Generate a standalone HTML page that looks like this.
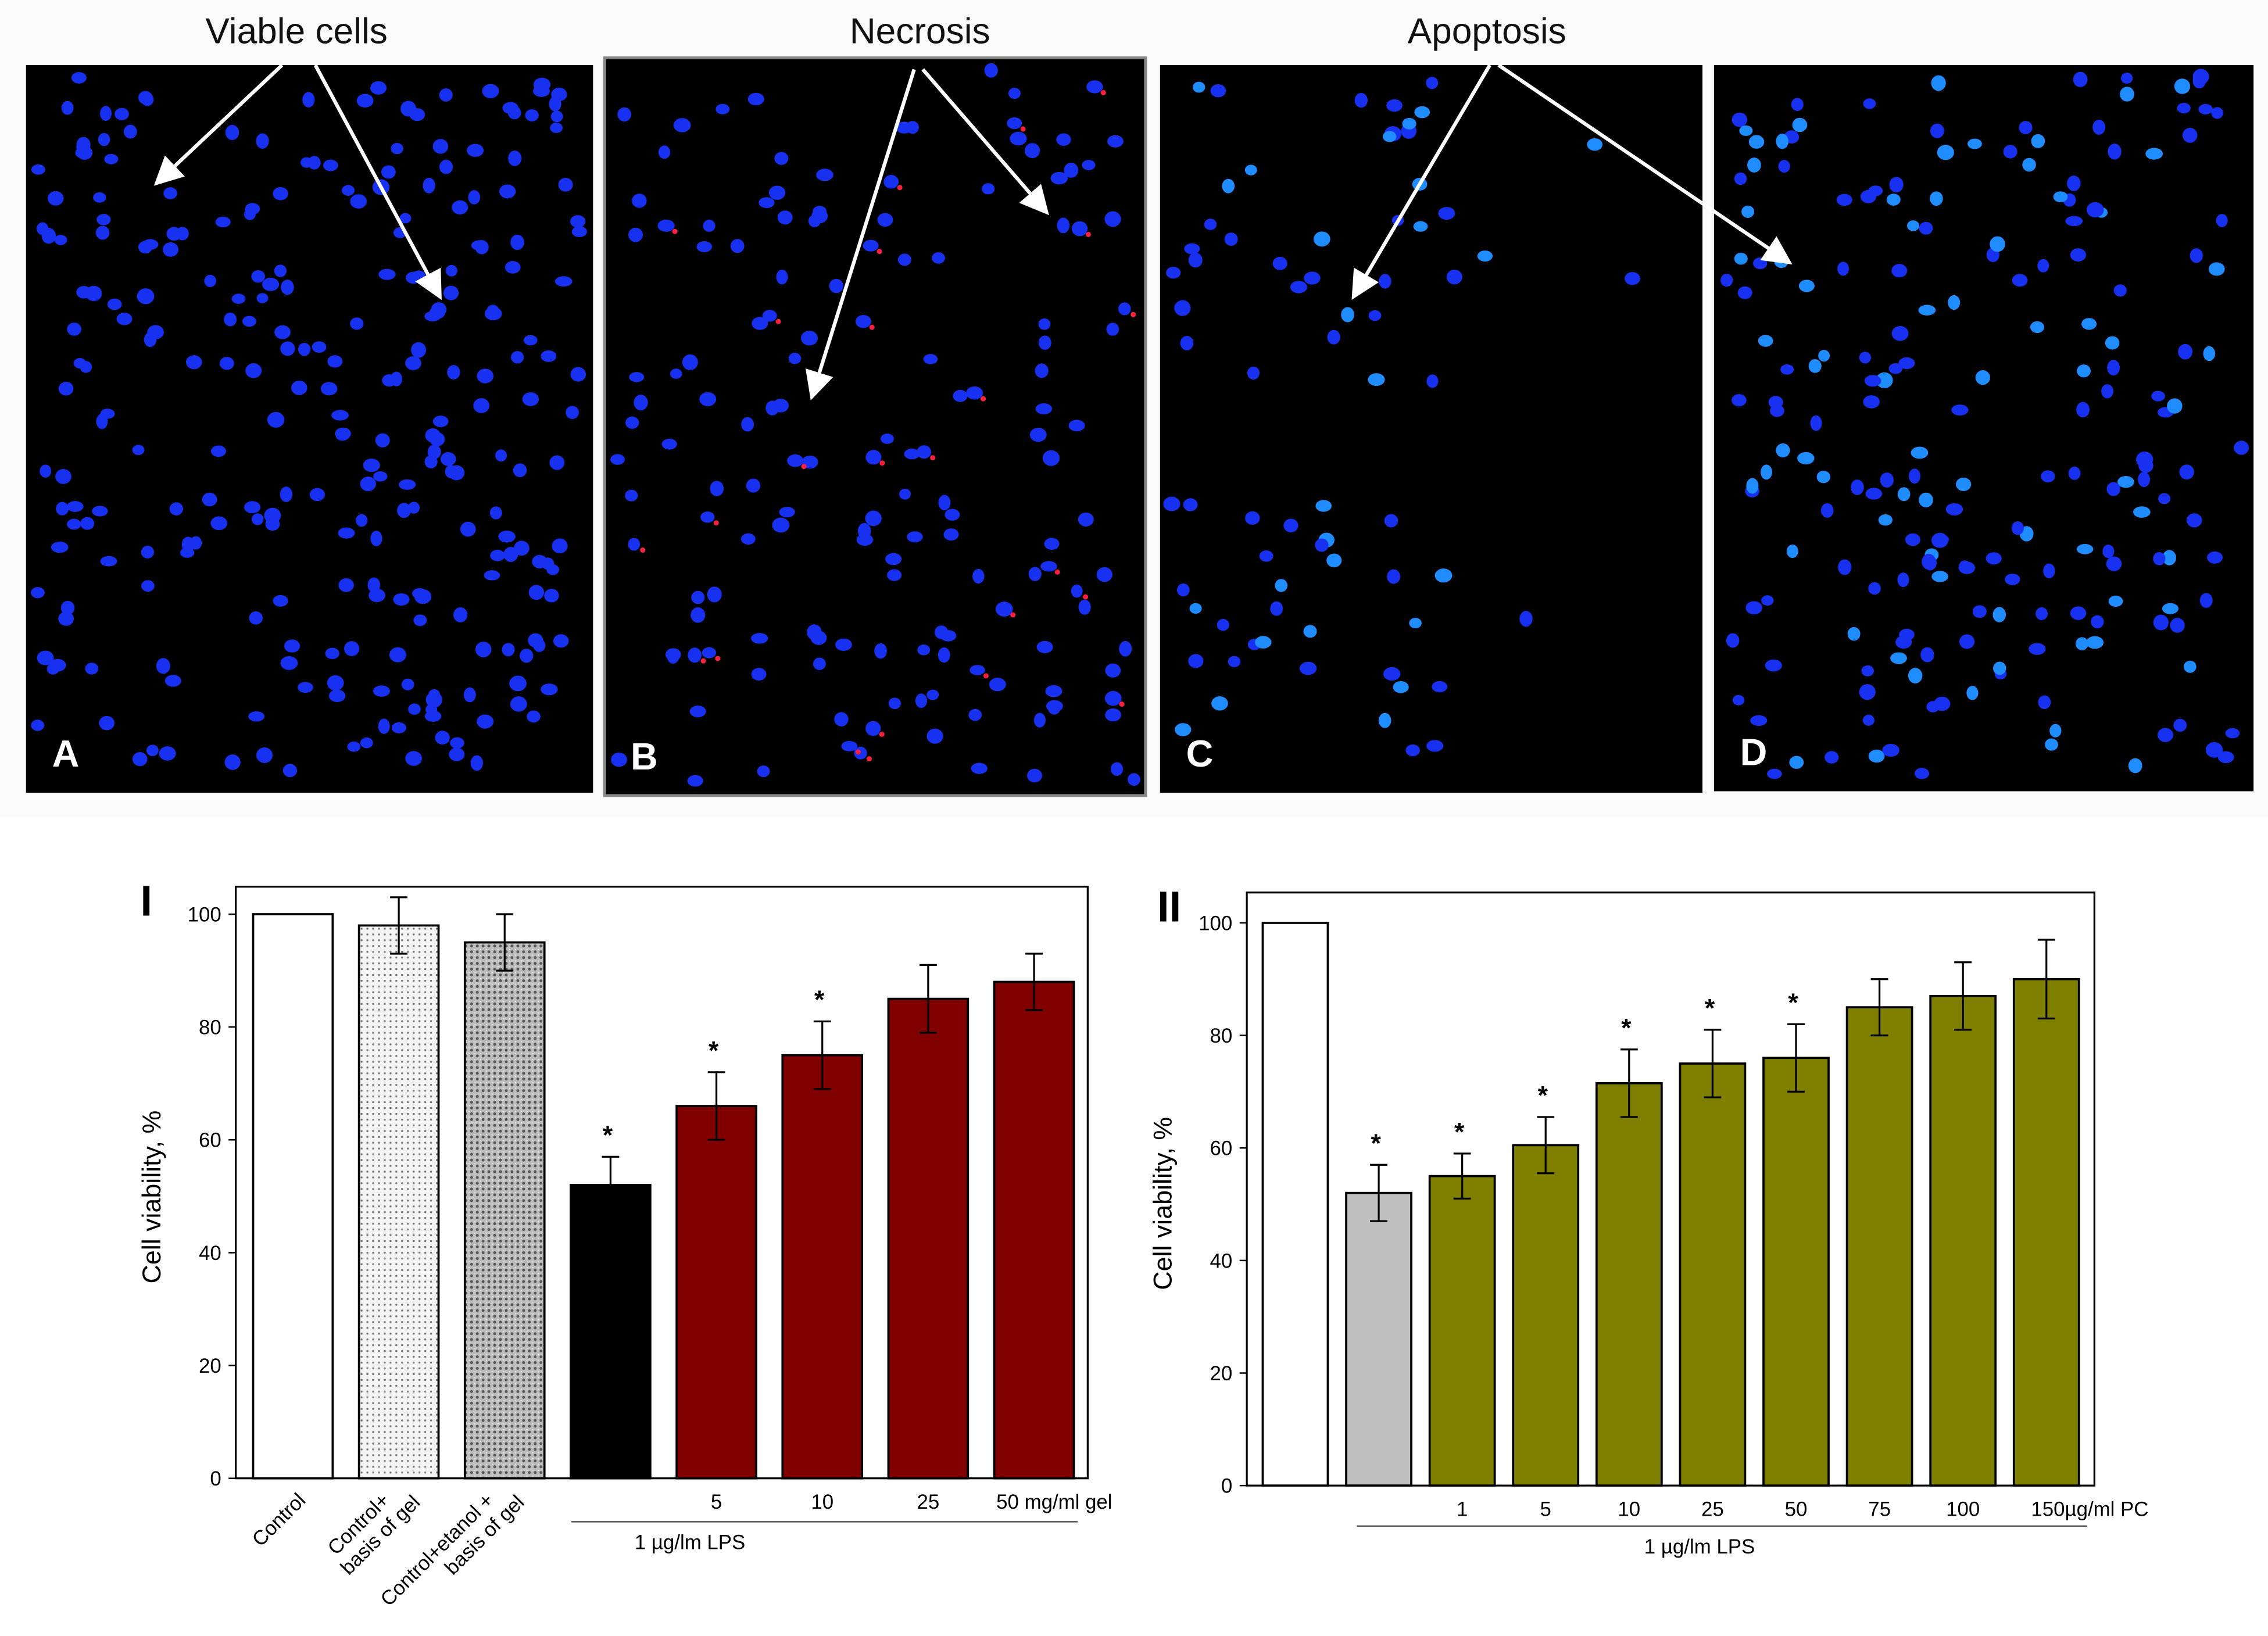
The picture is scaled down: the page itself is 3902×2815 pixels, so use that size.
<!DOCTYPE html>
<html><head><meta charset="utf-8"><style>
html,body{margin:0;padding:0;background:#fff;}
svg{display:block;font-family:"Liberation Sans",Arial,sans-serif;}
</style></head><body>
<svg id="fig" width="3902" height="2815" viewBox="0 0 1568 1131" preserveAspectRatio="none" xmlns="http://www.w3.org/2000/svg">
<defs>
<pattern id="dots" width="4" height="4" patternUnits="userSpaceOnUse"><rect width="4" height="4" fill="#f4f4f4"/><circle cx="2" cy="2" r="0.7" fill="#777"/></pattern>
<pattern id="hatch" width="4" height="4" patternUnits="userSpaceOnUse"><rect width="4" height="4" fill="#bdbdbd"/><circle cx="2" cy="2" r="1" fill="#555"/><circle cx="0" cy="0" r="0.8" fill="#eee"/></pattern>
<marker id="ah" markerWidth="8" markerHeight="8" refX="6" refY="4" orient="auto"><path d="M0,0 L8,4 L0,8 Z" fill="#fff"/></marker>
</defs>
<rect x="0" y="0" width="1568" height="565" fill="#fafafa"/>
<g id="micro"></g>
<g id="chart1"></g>
<g id="chart2"></g>
</svg>
<script>
const NS="http://www.w3.org/2000/svg";
function mk(p,tag,attrs,txt){const e=document.createElementNS(NS,tag);for(const k in attrs)e.setAttribute(k,attrs[k]);if(txt!==undefined)e.textContent=txt;p.appendChild(e);return e;}

// ---------- chart data ----------
const c1Categories=["Control","Control+ basis of gel","Control+etanol + basis of gel","LPS","5","10","25","50 mg/ml gel"];
const c1Values=[100,98,95,52,66,75,85,88];
const c1Errors=[0,5,5,5,6,6,6,5];
const c1Stars=[false,false,false,true,true,true,false,false];
const c1Ticks=[0,20,40,60,80,100];

const c2Categories=["Control","LPS","1","5","10","25","50","75","100","150µg/ml PC"];
const c2Values=[100,52,55,60.5,71.5,75,76,85,87,90];
const c2Errors=[0,5,4,5,6,6,6,5,6,7];
const c2Stars=[false,true,true,true,true,true,true,false,false,false];
const c2Ticks=[0,20,40,60,80,100];

// ---------- micrographs ----------
const micro=document.getElementById('micro');
const panels=[{x:18,y:45,w:392,h:503,l:"A"},{x:418,y:40,w:374,h:510,l:"B"},{x:802,y:45,w:375,h:503,l:"C"},{x:1185,y:45,w:373,h:502,l:"D"}];
let seed=7;function rnd(){seed=(seed*16807)%2147483647;return seed/2147483647;}
panels.forEach((p,i)=>{
  const g=mk(micro,'g',{});
  
  
  mk(g,'rect',{x:p.x,y:p.y,width:p.w,height:p.h,fill:'#000',stroke:i==1?'#888':'none','stroke-width':2});
  const n=[260,150,130,200][i];
  for(let k=0;k<n;k++){
    const cx=p.x+8+rnd()*(p.w-16), cy=p.y+8+rnd()*(p.h-16);
    if(i==2 && !((cy<300&&cx<1030)||(cy>340&&cx<1000))) { if(rnd()>0.1) continue; }
    const cyan=(i>=2&&rnd()<0.35);
    mk(g,'ellipse',{cx:cx,cy:cy,rx:4+rnd()*2,ry:3.5+rnd()*2,fill:cyan?'#1f8cff':'#1830f0'});
    if(i==1&&rnd()<0.15) mk(g,'circle',{cx:cx+6,cy:cy+4,r:1.8,fill:'#ff2040'});
  }
  const t=mk(g,'text',{x:p.x+18,y:p.y+p.h-18,fill:'#fff','font-size':26,'font-weight':'bold'},p.l);
  
  
});
[["Viable cells",205],["Necrosis",636],["Apoptosis",1028]].forEach(([s,x])=>{
  const t=mk(micro,'text',{x:x,y:30,'text-anchor':'middle','font-size':25,fill:'#111'},s);
  
  
});
[[195,45,110,125],[218,45,303,203],[632,48,562,272],[638,48,722,145],[1030,45,937,203],[1036,45,1235,180]].forEach(a=>{
  const l=mk(micro,'line',{x1:a[0],y1:a[1],x2:a[2],y2:a[3],stroke:'#fff','stroke-width':2.5,'marker-end':'url(#ah)'});
  
  
});

// ---------- bar chart builder ----------
function chart(gid,o){
  const g=document.getElementById(gid);
  const y=v=>o.y0-(v/100)*(o.y0-o.y100);
  const f=mk(g,'rect',{x:o.fx,y:o.fy,width:o.fw,height:o.y0-o.fy,fill:'#fff',stroke:'#000','stroke-width':1.3});
  
  
  o.ticks.forEach(t=>{
    mk(g,'line',{x1:o.fx-5,x2:o.fx,y1:y(t),y2:y(t),stroke:'#000','stroke-width':1});
    const tl=mk(g,'text',{x:o.fx-10,y:y(t)+5,'text-anchor':'end','font-size':14},t);
    
    
  });
  o.vals.forEach((v,i)=>{
    const x=o.bx0+i*o.step;
    const b=mk(g,'rect',{x:x,y:y(v),width:o.bw,height:o.y0-y(v),fill:o.fills[i],stroke:'#000','stroke-width':1.5});
    
    
    const cx=x+o.bw/2,e=o.errs[i];
    if(e>0){
      const eb=mk(g,'path',{d:`M${cx},${y(v+e)}V${y(v-e)}M${cx-6},${y(v+e)}H${cx+6}M${cx-6},${y(v-e)}H${cx+6}`,stroke:'#000','stroke-width':1.3,fill:'none'});
      
      
    }
    if(o.stars[i]){
      const s=mk(g,'text',{x:cx-2,y:y(v+e)-9,'text-anchor':'middle','font-size':18,'font-weight':'bold'},'*');
      
      
    }
    if(o.xlab[i]){
      const lx=o.xlabAt?o.xlabAt(i,cx):cx;
      const t=mk(g,'text',{x:lx,y:o.y0+21,'text-anchor':'middle','font-size':14},o.xlab[i]);
      
      
    }
  });
  const tt=mk(g,'text',{transform:`translate(${o.fx-52},${(o.y0+o.fy)/2+10}) rotate(-90)`,'text-anchor':'middle','font-size':18},'Cell viability, %');
  
  
  const r=mk(g,'text',{x:o.rx,y:o.fy+20,'font-size':30,'font-weight':'bold'},o.roman);
  
  
  mk(g,'line',{x1:o.lx1,x2:o.lx2,y1:o.ly,y2:o.ly,stroke:'#555','stroke-width':1});
  const lp=mk(g,'text',{x:o.lpx,y:o.ly+19,'text-anchor':'middle','font-size':14},'1 µg/lm LPS');
  
  
  return {g,y};
}
const c1=chart('chart1',{fx:163,fy:613,fw:589,y0:1022,y100:632,ticks:c1Ticks,vals:c1Values,errs:c1Errors,stars:c1Stars,
  bx0:175,step:73.2,bw:55,fills:['#fff','url(#dots)','url(#hatch)','#000','#800000','#800000','#800000','#800000'],
  xlab:[null,null,null,null,"5","10","25","50 mg/ml gel"],xlabAt:(i,cx)=>i==7?cx+14:cx,
  rx:97,roman:'I',lx1:395,lx2:745,ly:1052,lpx:477});
[[["Control"],212],[["Control+","basis of gel"],270],[["Control+etanol +","basis of gel"],342]].forEach(([lines,x])=>{
  const t=mk(c1.g,'text',{transform:`translate(${x},${1038}) rotate(-45)`,'text-anchor':'end','font-size':14});
  
  
  lines.forEach((l,k)=>mk(t,'tspan',{x:k*14,dy:k?16:0},l));
});
chart('chart2',{fx:862,fy:617,fw:586,y0:1027,y100:638,ticks:c2Ticks,vals:c2Values,errs:c2Errors,stars:c2Stars,
  bx0:873,step:57.7,bw:45,fills:['#fff','#c0c0c0','#808000','#808000','#808000','#808000','#808000','#808000','#808000','#808000'],
  xlab:[null,null,"1","5","10","25","50","75","100","150µg/ml PC"],xlabAt:(i,cx)=>i==9?cx+30:cx,
  rx:800,roman:'II',lx1:938,lx2:1443,ly:1055,lpx:1175});
</script>
</body></html>
